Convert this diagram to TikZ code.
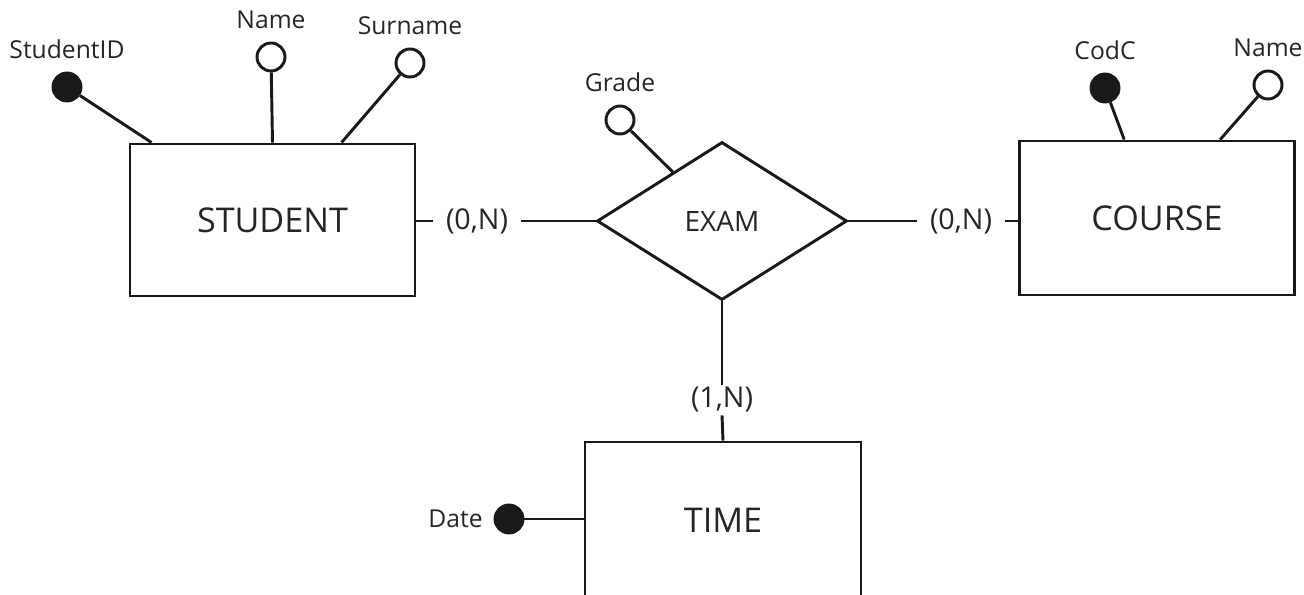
\documentclass[tikz,border=0pt]{standalone}
\usepackage{fontspec}
\setmainfont{Open Sans}
\usepackage{tikz}
\usetikzlibrary{positioning,calc,shapes.geometric}
\tikzset{
  erline/.style={line width=2.2pt,draw=black!90},
  ent/.style={erline,rectangle,inner sep=0pt,minimum height=114pt,
    font=\fontsize{25.6}{30}\selectfont,text=black!85},
  rel/.style={erline,diamond,inner sep=0pt,minimum width=187.5pt,
    minimum height=118.5pt,font=\fontsize{21}{25}\selectfont,text=black!85},
  attr/.style={erline,circle,fill=white,minimum size=21pt,inner sep=0pt},
  attrkey/.style={attr,fill=black!90},
  alab/.style={label={[label distance=8.5pt]above:{#1}}},
  every label/.style={font=\fontsize{18.5}{22}\selectfont,text=black!85,
    inner sep=1pt},
  card/.style={font=\fontsize{21.5}{25}\selectfont,text=black!85,
    inner xsep=9.5pt,inner ysep=2pt},
  conn/.style={erline},
}
\begin{document}
\begin{tikzpicture}[x=0.75pt,y=-0.75pt]
  \useasboundingbox (0,0) rectangle (1304,595);
  % entities and relationship
  \node[ent,minimum width=213.75pt] (stu) at (272.5,220) {STUDENT};
  \node[ent,minimum width=206pt,minimum height=115.5pt] (cou) at (1157,218) {COURSE};
  \node[ent,minimum width=207pt,minimum height=117pt] (tim) at (723,520) {TIME};
  \node[rel] (exm) at (722,221) {EXAM};
  % attributes
  \node[attrkey,alab=StudentID] (sid) at (67,87) {};
  \node[attr,alab=Name] (snm) at (271,57) {};
  \node[attr,alab=Surname] (ssn) at (410,63) {};
  \node[attr,alab=Grade] (grd) at (620,120) {};
  \node[attrkey,alab=CodC] (cod) at (1105,88) {};
  \node[attr,alab=Name] (cnm) at (1268,85) {};
  \node[attrkey,label={[label distance=7pt]left:{Date}}] (dat) at (509,519) {};
  \draw[conn] (sid) -- ($(stu.north west)+(23,0)$);
  \draw[conn] (snm) -- (stu.north);
  \draw[conn] (ssn) -- ($(stu.north west)+(213,0)$);
  \draw[conn] (grd) -- ($(exm.north)!0.39!(exm.west)$);
  \draw[conn] (cod) -- ($(cou.north west)+(106,0)$);
  \draw[conn] (cnm) -- ($(cou.north west)+(202,0)$);
  \draw[conn] (dat) -- (tim.west |- dat);
  % cardinalities
  \node[card] (c1) at (477,221) {(0,N)};
  \node[card] (c2) at (961,221) {(0,N)};
  \node[card] (c3) at (722,400) {(1,N)};
  \draw[conn] (stu.east |- c1) -- (c1.west);
  \draw[conn] (c1.east) -- (exm.west);
  \draw[conn] (exm.east) -- (c2.west);
  \draw[conn] (c2.east) -- (cou.west |- c2);
  \draw[conn] (exm.south) -- (c3.north);
  \draw[conn] (c3.south) -- (tim.north);
\end{tikzpicture}
\end{document}
